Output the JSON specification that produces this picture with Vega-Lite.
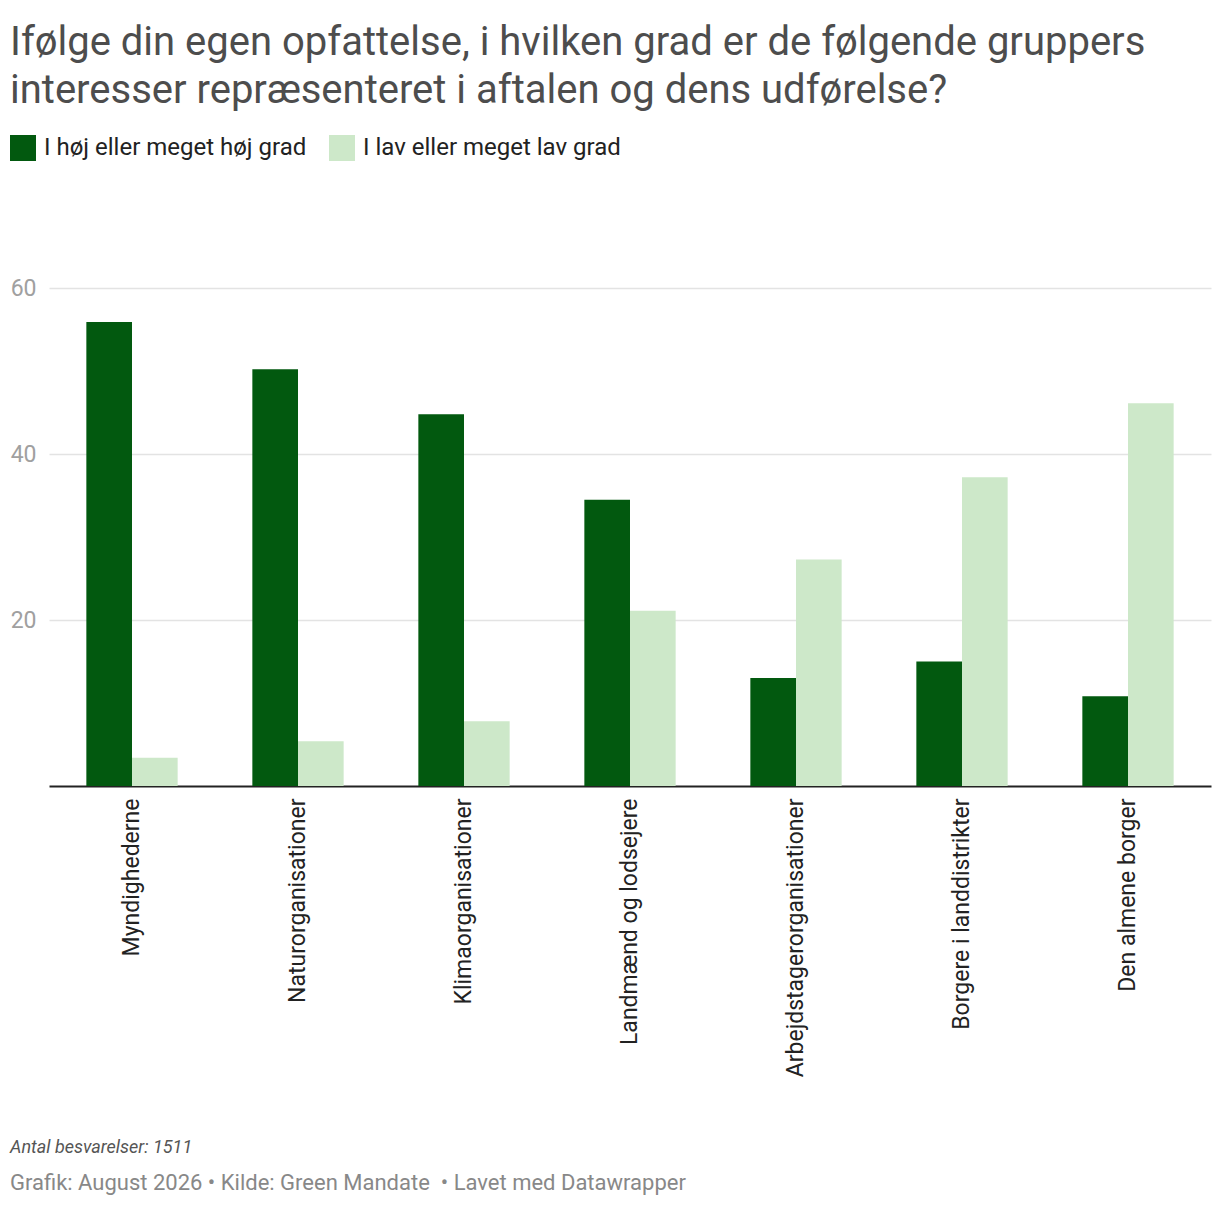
{
  "$schema": "https://vega.github.io/schema/vega-lite/v6.json",
  "autosize": {"type": "none"},
  "width": 1162,
  "height": 498,
  "padding": {"left": 49, "top": 288, "right": 9, "bottom": 422},
  "background": "white",
  "config": {
    "font": "Roboto",
    "view": {"stroke": null}
  },
  "title": {
    "text": [
      "Ifølge din egen opfattelse, i hvilken grad er de følgende gruppers",
      "interesser repræsenteret i aftalen og dens udførelse?"
    ],
    "anchor": "start",
    "frame": "group",
    "dx": -39,
    "offset": 24,
    "fontSize": 40,
    "fontWeight": "normal",
    "lineHeight": 48,
    "color": "#4d4d4d"
  },
  "datasets": {
    "answers": [
      {"group": "Myndighederne", "series": "I høj eller meget høj grad", "share": 55.9},
      {"group": "Myndighederne", "series": "I lav eller meget lav grad", "share": 3.4},
      {"group": "Naturorganisationer", "series": "I høj eller meget høj grad", "share": 50.2},
      {"group": "Naturorganisationer", "series": "I lav eller meget lav grad", "share": 5.4},
      {"group": "Klimaorganisationer", "series": "I høj eller meget høj grad", "share": 44.8},
      {"group": "Klimaorganisationer", "series": "I lav eller meget lav grad", "share": 7.8},
      {"group": "Landmænd og lodsejere", "series": "I høj eller meget høj grad", "share": 34.5},
      {"group": "Landmænd og lodsejere", "series": "I lav eller meget lav grad", "share": 21.1},
      {"group": "Arbejdstagerorganisationer", "series": "I høj eller meget høj grad", "share": 13.0},
      {"group": "Arbejdstagerorganisationer", "series": "I lav eller meget lav grad", "share": 27.3},
      {"group": "Borgere i landdistrikter", "series": "I høj eller meget høj grad", "share": 15.0},
      {"group": "Borgere i landdistrikter", "series": "I lav eller meget lav grad", "share": 37.2},
      {"group": "Den almene borger", "series": "I høj eller meget høj grad", "share": 10.8},
      {"group": "Den almene borger", "series": "I lav eller meget lav grad", "share": 46.1}
    ],
    "notes": [
      {"line": "Antal besvarelser: 1511"}
    ],
    "credits": [
      {"line": "Grafik: August 2026 • Kilde: Green Mandate \u00a0• Lavet med Datawrapper"}
    ]
  },
  "layer": [
    {
      "data": {"name": "answers"},
      "mark": {"type": "bar"},
      "encoding": {
        "x": {
          "field": "group",
          "type": "nominal",
          "sort": null,
          "scale": {"paddingInner": 0.45, "paddingOuter": 0.225},
          "axis": {
            "title": null,
            "labelAngle": -90,
            "labelAlign": "right",
            "labelBaseline": "middle",
            "labelFontSize": 23,
            "labelColor": "#222222",
            "labelPadding": 12,
            "labelLimit": 400,
            "ticks": false,
            "domainColor": "#222222",
            "domainWidth": 2
          }
        },
        "xOffset": {"field": "series", "type": "nominal", "sort": null, "scale": {"paddingInner": 0}},
        "y": {
          "field": "share",
          "type": "quantitative",
          "scale": {"domain": [0, 60]},
          "axis": {
            "title": null,
            "values": [20, 40, 60],
            "domain": false,
            "ticks": false,
            "labelFontSize": 23,
            "labelColor": "#a0a0a0",
            "labelPadding": 13,
            "gridColor": "#e3e3e3",
            "gridWidth": 1.5
          }
        },
        "color": {
          "field": "series",
          "type": "nominal",
          "sort": null,
          "scale": {"range": ["#02590f", "#cde8c9"]},
          "legend": {
            "title": null,
            "orient": "none",
            "direction": "horizontal",
            "legendX": -39,
            "legendY": -153,
            "symbolType": "square",
            "symbolSize": 676,
            "symbolStrokeWidth": 0,
            "symbolOpacity": 1,
            "labelFontSize": 24,
            "labelColor": "#222222",
            "labelOffset": 8,
            "columnPadding": 22,
            "labelLimit": 400
          }
        }
      }
    },
    {
      "data": {"name": "notes"},
      "mark": {"type": "text", "align": "left", "baseline": "middle", "fontSize": 18, "fontStyle": "italic", "color": "#555555"},
      "encoding": {
        "text": {"field": "line"},
        "x": {"value": -39},
        "y": {"value": 860}
      }
    },
    {
      "data": {"name": "credits"},
      "mark": {"type": "text", "align": "left", "baseline": "middle", "fontSize": 22, "color": "#888888"},
      "encoding": {
        "text": {"field": "line"},
        "x": {"value": -39},
        "y": {"value": 895}
      }
    }
  ]
}
